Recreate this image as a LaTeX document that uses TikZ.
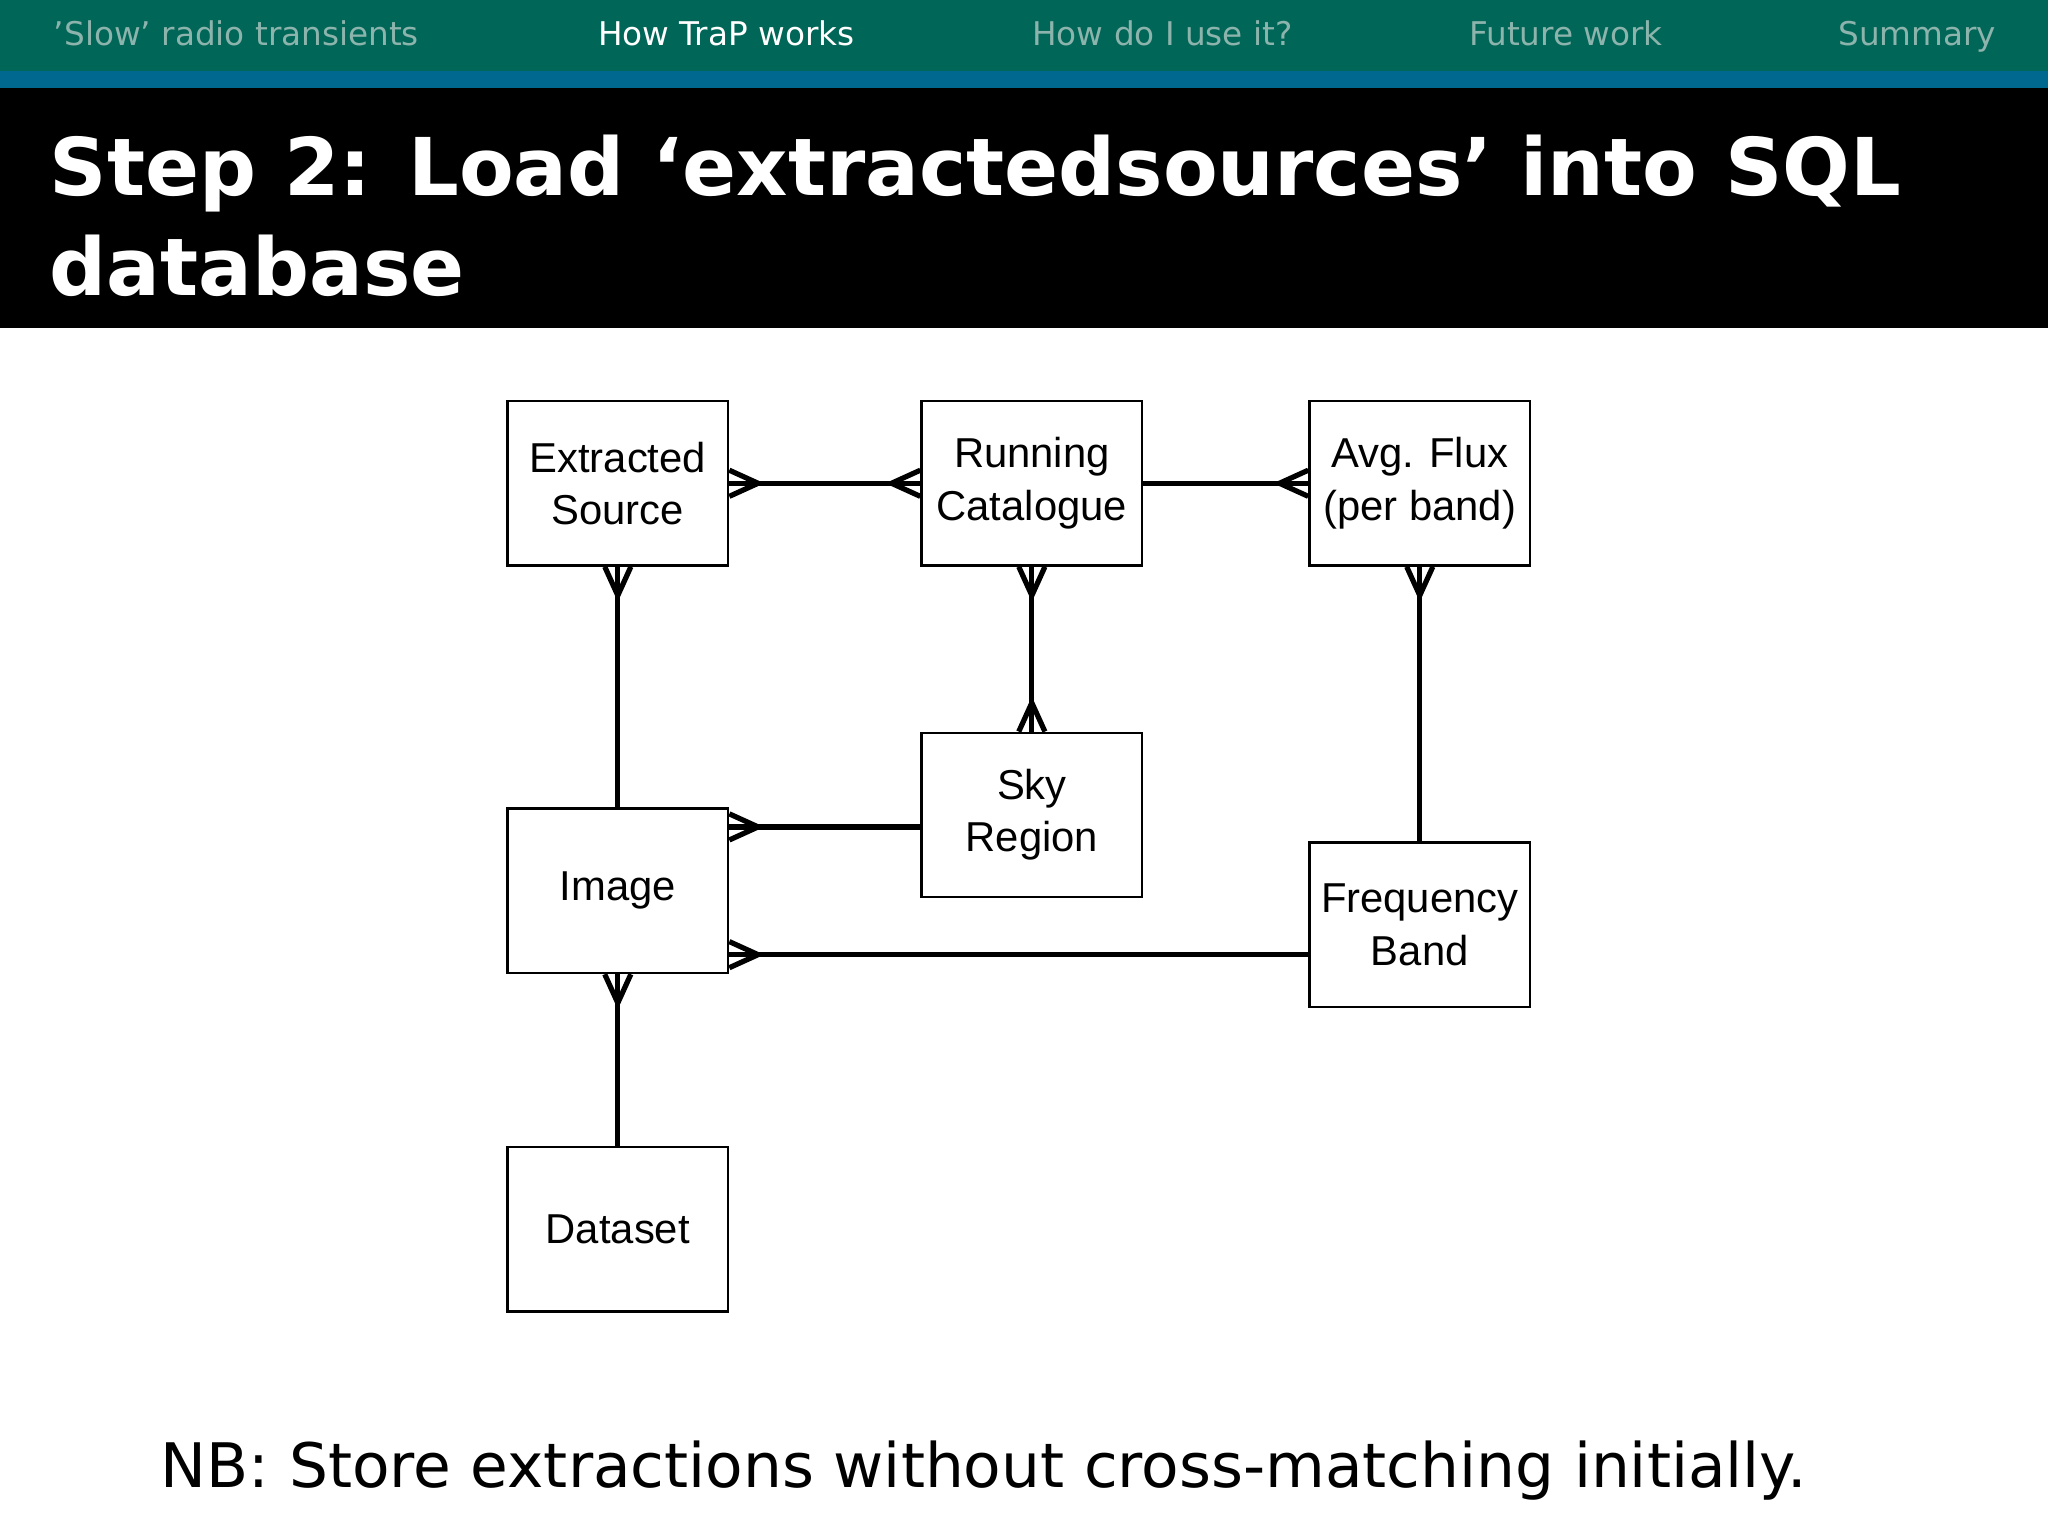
\documentclass[tikz,border=0pt]{standalone}
\usepackage{fontspec}
\setmainfont{DejaVu Sans}
\newfontfamily\boxfont{Liberation Sans}
\usetikzlibrary{calc}
\definecolor{navteal}{RGB}{0,102,88}
\definecolor{navblue}{RGB}{0,103,143}
\definecolor{navgray}{RGB}{140,180,172}
\tikzset{
  ent/.style={draw,line width=1.8pt,minimum width=169pt,minimum height=126pt,align=center,font=\boxfont\fontsize{32}{40}\selectfont,inner sep=0pt},
  conn/.style={line width=4pt},
  nav/.style={anchor=base,font=\fontsize{25}{30}\selectfont,text=navgray},
}
\newcommand\crowfoot[3]{\draw[conn] ($(#1)+(#3)$) -- ($(#1)+(#2)$) -- ($(#1)-(#3)$);}
\begin{document}
\begin{tikzpicture}[x=1pt,y=-1pt]
\useasboundingbox (0,0) rectangle (1568,1176);
\fill[navteal] (0,0) rectangle (1568,54);
\fill[navblue] (0,54) rectangle (1568,67);
\fill[black] (0,67) rectangle (1568,251);
\node[nav] (n1) at (181,35) {’Slow’ radio transients};
\node[nav,text=white] (n2) at (556,35) {How TraP works};
\node[nav] (n3) at (890,35) {How do I use it?};
\node[nav] (n4) at (1199,35) {Future work};
\node[nav] (n5) at (1468,35) {Summary};
\node[anchor=base west,align=left,text=white,font=\bfseries\fontsize{61}{76}\selectfont,inner sep=0pt] (title) at (38,226) {Step 2: Load ‘extractedsources’ into SQL\\database};

\node[ent] (es) at (473,370) {Extracted\\Source};
\node[ent] (rc) at (790,370) {Running\\Catalogue};
\node[ent] (af) at (1087,370) {Avg. Flux\\(per band)};
\node[ent] (sr) at (790,624) {Sky\\Region};
\node[ent] (img) at (473,682) {Image};
\node[ent] (fb) at (1087,708) {Frequency\\Band};
\node[ent] (ds) at (473,941) {Dataset};

\draw[conn] (es.east) -- (rc.west);
\crowfoot{es.east}{22,0}{0,10}
\crowfoot{rc.west}{-22,0}{0,10}
\draw[conn] (rc.east) -- (af.west);
\crowfoot{af.west}{-22,0}{0,10}
\draw[conn] (es.south) -- (img.north);
\crowfoot{es.south}{0,22}{10,0}
\draw[conn] (rc.south) -- (sr.north);
\crowfoot{rc.south}{0,22}{10,0}
\crowfoot{sr.north}{0,-22}{10,0}
\draw[conn] (af.south) -- (fb.north);
\crowfoot{af.south}{0,22}{10,0}
\coordinate (i1) at ($(img.north east)+(0,15)$);
\coordinate (i2) at ($(img.south east)+(0,-15)$);
\draw[conn] (i1) -- (sr.west |- i1);
\crowfoot{i1}{22,0}{0,10}
\draw[conn] (i2) -- (fb.west |- i2);
\crowfoot{i2}{22,0}{0,10}
\draw[conn] (img.south) -- (ds.north);
\crowfoot{img.south}{0,22}{10,0}

\node[anchor=base west,inner sep=0pt,font=\fontsize{47}{56}\selectfont] (nb) at (123,1139) {NB: Store extractions without cross-matching initially.};
\end{tikzpicture}
\end{document}
